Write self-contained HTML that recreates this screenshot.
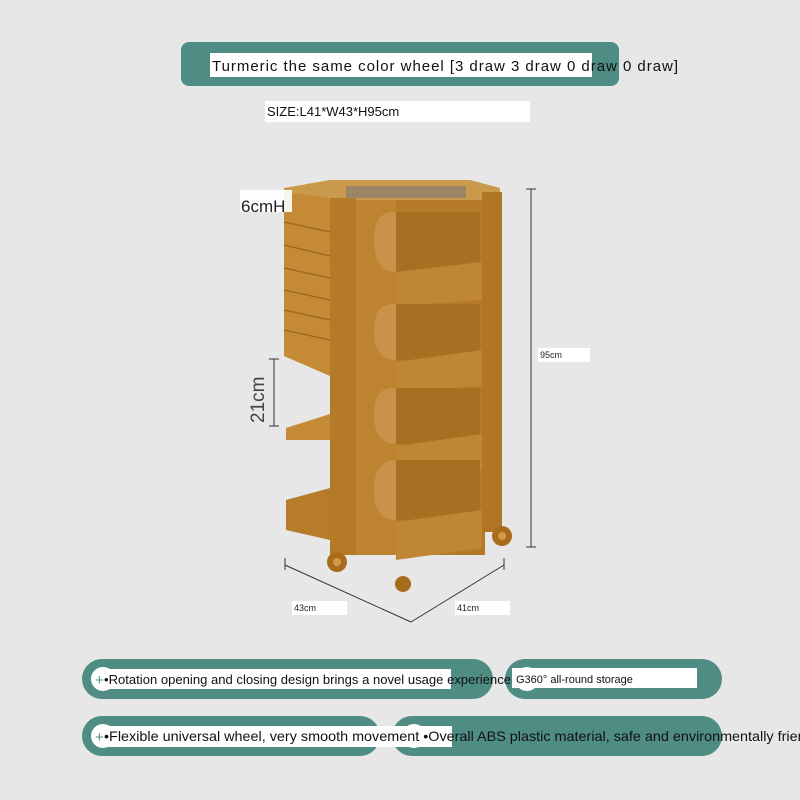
<!DOCTYPE html>
<html><head><style>
body{margin:0;background:#e7e7e7;}
svg{display:block}
text{font-family:"Liberation Sans",sans-serif;}
</style></head><body>
<svg width="800" height="800" viewBox="0 0 800 800" xmlns="http://www.w3.org/2000/svg">
<rect width="800" height="800" fill="#e7e7e7"/>
<!-- top banner -->
<rect x="181" y="42" width="438" height="44" rx="8" fill="#4f8c84"/>
<rect x="210" y="53" width="382" height="24" fill="#fff"/>
<text x="212" y="71" font-size="15" fill="#111" textLength="466" lengthAdjust="spacing">Turmeric   the same color wheel [3 draw   3 draw   0 draw   0 draw]</text>
<rect x="265" y="101" width="265" height="21" fill="#fff"/>
<text x="267" y="116" font-size="13" fill="#111">SIZE:L41*W43*H95cm</text>

<!-- cart -->
<g>
<polygon points="284,188 330,180 470,180 500,188 500,200 284,200" fill="#c99a4c"/>
<rect x="346" y="186" width="120" height="12" fill="#9b8468"/>
<polygon points="284,192 330,198 330,376 284,356" fill="#c48a35"/>
<polygon points="330,198 356,198 356,376 330,376" fill="#b57b28"/>
<g stroke="#9a661c" stroke-width="1.2">
<line x1="284" y1="222" x2="330" y2="232"/><line x1="284" y1="245" x2="330" y2="256"/>
<line x1="284" y1="268" x2="330" y2="278"/><line x1="284" y1="290" x2="330" y2="300"/>
<line x1="284" y1="310" x2="330" y2="320"/><line x1="284" y1="330" x2="330" y2="340"/>
<line x1="330" y1="236" x2="356" y2="240"/><line x1="330" y1="262" x2="356" y2="268"/>
<line x1="330" y1="296" x2="356" y2="302"/><line x1="330" y1="326" x2="356" y2="330"/>
</g>
<rect x="330" y="200" width="155" height="355" fill="#b47a27"/>
<rect x="356" y="200" width="40" height="355" fill="#bd8330"/>
<rect x="482" y="192" width="20" height="340" fill="#b07626"/>
<g>
<rect x="396" y="212" width="84" height="60" fill="#a66f22"/>
<path d="M374,240 q0,-30 22,-28 v60 q-22,0 -22,-32z" fill="#c9924a"/>
<polygon points="396,272 482,262 482,300 396,306" fill="#bf8634"/>
<rect x="396" y="304" width="84" height="56" fill="#a66f22"/>
<path d="M374,330 q0,-28 22,-26 v56 q-22,0 -22,-30z" fill="#c9924a"/>
<polygon points="396,362 482,350 482,386 396,392" fill="#bf8634"/>
<rect x="396" y="388" width="84" height="56" fill="#a66f22"/>
<path d="M374,414 q0,-28 22,-26 v56 q-22,0 -22,-30z" fill="#c9924a"/>
<polygon points="396,446 482,434 482,470 396,476" fill="#bf8634"/>
<rect x="396" y="460" width="84" height="60" fill="#a66f22"/>
<path d="M374,490 q0,-30 22,-30 v60 q-22,0 -22,-30z" fill="#c9924a"/>
<polygon points="396,522 482,510 482,548 396,560" fill="#bf8634"/>
</g>
<polygon points="286,428 330,414 330,440 286,440" fill="#c48a35"/>
<polygon points="286,500 330,488 330,540 286,530" fill="#b77c2a"/>
<circle cx="337" cy="562" r="10" fill="#a86c1c"/><circle cx="337" cy="562" r="4" fill="#d49a4a"/>
<circle cx="502" cy="536" r="10" fill="#a86c1c"/><circle cx="502" cy="536" r="4" fill="#d49a4a"/>
<circle cx="403" cy="584" r="8" fill="#a86c1c"/>
</g>
<rect x="240" y="190" width="52" height="22" fill="#fff" opacity=".9"/>
<text x="241" y="212" font-size="17" fill="#222">6cmH</text>

<g stroke="#333" stroke-width="1" fill="none">
<line x1="531" y1="189" x2="531" y2="547"/><line x1="526" y1="189" x2="536" y2="189"/><line x1="526" y1="547" x2="536" y2="547"/>
<line x1="274" y1="359" x2="274" y2="426"/><line x1="269" y1="359" x2="279" y2="359"/><line x1="269" y1="426" x2="279" y2="426"/>
<line x1="285" y1="565" x2="411" y2="622"/><line x1="411" y1="622" x2="504" y2="565"/>
<line x1="285" y1="558" x2="285" y2="570"/><line x1="504" y1="558" x2="504" y2="570"/>
</g>
<text x="264" y="423" font-size="19" fill="#444" transform="rotate(-90 264 423)">21cm</text>
<rect x="538" y="348" width="52" height="14" fill="#fff"/>
<text x="540" y="358" font-size="9" fill="#222">95cm</text>
<rect x="292" y="601" width="55" height="14" fill="#fff"/>
<text x="294" y="611" font-size="9" fill="#222">43cm</text>
<rect x="455" y="601" width="55" height="14" fill="#fff"/>
<text x="457" y="611" font-size="9" fill="#222">41cm</text>

<g fill="#4f8c84">
<rect x="82" y="659" width="411" height="40" rx="20"/>
<rect x="505" y="659" width="217" height="40" rx="20"/>
<rect x="82" y="716" width="298" height="40" rx="20"/>
<rect x="392" y="716" width="330" height="40" rx="20"/>
</g>
<g fill="#fff">
<circle cx="103" cy="679" r="12"/><circle cx="527" cy="679" r="12"/>
<circle cx="103" cy="736" r="12"/><circle cx="414" cy="736" r="12"/>
<rect x="104" y="669" width="347" height="20"/>
<rect x="512" y="668" width="185" height="20"/>
<rect x="104" y="726" width="348" height="21"/>
</g>
<text x="95" y="685" font-size="15" fill="#5a8c84">+</text>
<text x="95" y="742" font-size="15" fill="#5a8c84">+</text>
<text x="104" y="684" font-size="13" fill="#111" textLength="407" lengthAdjust="spacingAndGlyphs">•Rotation opening and closing design brings a novel usage experience</text>
<text x="516" y="683" font-size="11" fill="#111">G360° all-round storage</text>
<text x="104" y="741" font-size="14" fill="#111" textLength="720" lengthAdjust="spacingAndGlyphs">•Flexible universal wheel, very smooth movement  •Overall ABS plastic material, safe and environmentally friendly</text>
</svg>
</body></html>
